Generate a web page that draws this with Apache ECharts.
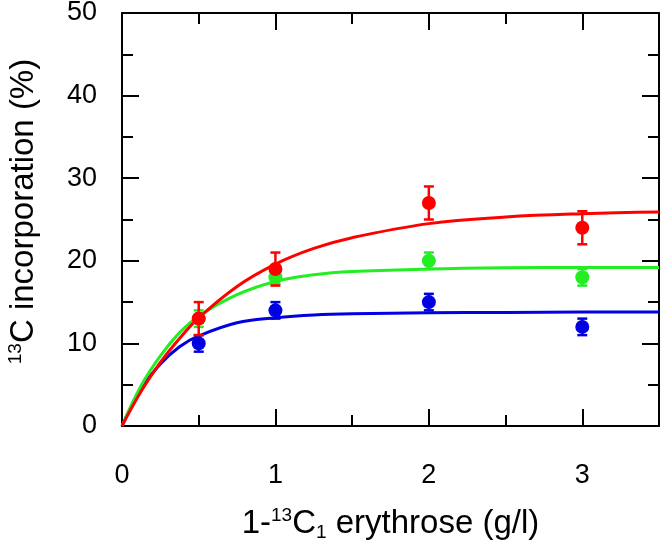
<!DOCTYPE html>
<html>
<head>
<meta charset="utf-8">
<script src="https://cdn.jsdelivr.net/npm/echarts@6/dist/echarts.min.js"></script>
<style>html,body{margin:0;padding:0;background:#fff}#c{width:661px;height:540px}</style>
</head>
<body>
<div id="c"></div>
<script>
// measured points
const xPoints = [0.5, 1, 2, 3];
const redMean = [13, 19, 27, 24];
const redErr = [2, 2, 2, 2];
const greenMean = [13, 18, 20, 18];
const greenErr = [1, 0.8, 1, 1];
const blueMean = [10, 14, 15, 12];
const blueErr = [1, 1, 1, 1];
// fitted curves
const curveX = [0, 0.125, 0.25, 0.375, 0.5, 0.75, 1, 1.25, 1.5, 2, 2.5, 3, 3.5];
const redCurve = [0, 4.2, 7.7, 10.6, 13.1, 16.9, 19.6, 21.5, 22.8, 24.5, 25.3, 25.7, 25.9];
const greenCurve = [0, 4.9, 8.5, 11.3, 13.3, 15.9, 17.5, 18.3, 18.7, 19.0, 19.15, 19.2, 19.2];
const blueCurve = [0, 4.5, 7.5, 9.6, 10.9, 12.5, 13.1, 13.45, 13.6, 13.7, 13.75, 13.8, 13.8];
const xTicks = [0, 1, 2, 3];
const yTicks = [0, 10, 20, 30, 40, 50];

const RED = '#ff0000', GREEN = '#22ee22', BLUE = '#0000e0';
const FONT = 'Liberation Sans';

function pairs(xs, ys) { return xs.map((x, i) => [x, ys[i]]); }
function errData(xs, m, e) { return xs.map((x, i) => [x, m[i] - e[i], m[i] + e[i]]); }

function errSeries(data, color) {
  return {
    type: 'custom', data: data, z: 4,
    renderItem: function (params, api) {
      const x = api.value(0);
      const lo = api.coord([x, api.value(1)]);
      const hi = api.coord([x, api.value(2)]);
      const w = 5;
      const st = { stroke: color, lineWidth: 2.5 };
      return { type: 'group', children: [
        { type: 'line', shape: { x1: lo[0], y1: lo[1], x2: hi[0], y2: hi[1] }, style: st },
        { type: 'line', shape: { x1: lo[0] - w, y1: lo[1], x2: lo[0] + w, y2: lo[1] }, style: st },
        { type: 'line', shape: { x1: hi[0] - w, y1: hi[1], x2: hi[0] + w, y2: hi[1] }, style: st }
      ]};
    }
  };
}
function curve(ys, color) {
  return { type: 'line', data: pairs(curveX, ys), smooth: 0.4, showSymbol: false, z: 3,
    lineStyle: { color: color, width: 3 }, itemStyle: { color: color } };
}
function pts(ys, color) {
  return { type: 'scatter', data: pairs(xPoints, ys), symbolSize: 14, z: 5,
    itemStyle: { color: color, opacity: 1 } };
}

const axisLine = { show: true, onZero: false, lineStyle: { color: '#000', width: 2 } };
const ticks = { show: true, inside: true, length: 17, lineStyle: { color: '#000', width: 2 } };
const minor = { show: true, splitNumber: 2, length: 11, lineStyle: { color: '#000', width: 2 } };

const chart = echarts.init(document.getElementById('c'));
chart.setOption({
  animation: false,
  textStyle: { fontFamily: FONT },
  grid: { left: 122, right: 2, top: 13, bottom: 114, containLabel: false, outerBoundsMode: 'none' },
  xAxis: [{
    type: 'value', min: 0, max: 3.5, interval: 1, position: 'bottom',
    axisLine: axisLine, axisTick: ticks, minorTick: minor, splitLine: { show: false },
    axisLabel: { fontSize: 27, color: '#000', margin: 36, fontFamily: FONT,
      formatter: v => xTicks.indexOf(v) >= 0 ? String(v) : '' },
    name: '1-{sup|13}C{sub|1} erythrose (g/l)', nameLocation: 'middle', nameGap: 80,
    nameTextStyle: { fontSize: 33, color: '#000', fontFamily: FONT,
      rich: { sup: { fontSize: 19, verticalAlign: 'top', color: '#000', fontFamily: FONT, lineHeight: 36 },
              sub: { fontSize: 19, verticalAlign: 'bottom', color: '#000', fontFamily: FONT, lineHeight: 36 } } }
  }, {
    type: 'value', min: 0, max: 3.5, interval: 1, position: 'top',
    axisLine: axisLine, axisTick: ticks, minorTick: minor, splitLine: { show: false },
    axisLabel: { show: false }
  }],
  yAxis: [{
    type: 'value', min: 0, max: 50, interval: 10, position: 'left',
    axisLine: axisLine, axisTick: ticks, minorTick: minor, splitLine: { show: false },
    axisLabel: { fontSize: 27, color: '#000', margin: 25, fontFamily: FONT,
      formatter: v => yTicks.indexOf(v) >= 0 ? String(v) : '' },
    name: '{pad|}{sup|13}C incorporation (%)', nameLocation: 'middle', nameGap: 80, nameRotate: 90,
    nameTextStyle: { fontSize: 33, color: '#000', fontFamily: FONT,
      rich: { pad: { width: 16, fontSize: 19, lineHeight: 36 },
              sup: { fontSize: 19, verticalAlign: 'top', color: '#000', fontFamily: FONT, lineHeight: 36 } } }
  }, {
    type: 'value', min: 0, max: 50, interval: 10, position: 'right',
    axisLine: axisLine, axisTick: ticks, minorTick: minor, splitLine: { show: false },
    axisLabel: { show: false }
  }],
  series: [
    curve(blueCurve, BLUE),
    curve(greenCurve, GREEN),
    curve(redCurve, RED),
    errSeries(errData(xPoints, blueMean, blueErr), BLUE),
    errSeries(errData(xPoints, greenMean, greenErr), GREEN),
    errSeries(errData(xPoints, redMean, redErr), RED),
    pts(blueMean, BLUE),
    pts(greenMean, GREEN),
    pts(redMean, RED)
  ]
});
</script>
</body>
</html>
